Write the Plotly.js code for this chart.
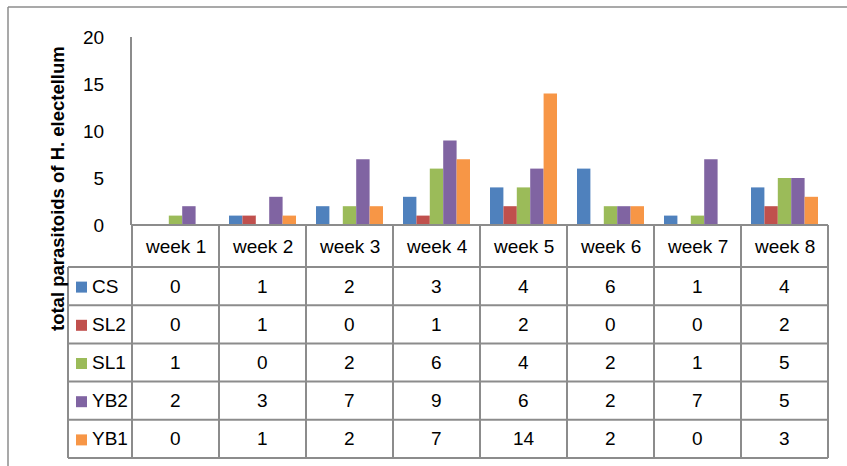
<!DOCTYPE html>
<html>
<head>
<meta charset="utf-8">
<script src="https://cdn.plot.ly/plotly-3.0.1.min.js"></script>
<style>html,body{margin:0;padding:0;background:#fff;}#chart{width:847px;height:466px;}</style>
</head>
<body>
<div id="chart"></div>
<script>
const weeks = ['week 1','week 2','week 3','week 4','week 5','week 6','week 7','week 8'];
const seriesNames = ['CS','SL2','SL1','YB2','YB1'];
const CS  = [0,1,2,3,4,6,1,4];
const SL2 = [0,1,0,1,2,0,0,2];
const SL1 = [1,0,2,6,4,2,1,5];
const YB2 = [2,3,7,9,6,2,7,5];
const YB1 = [0,1,2,7,14,2,0,3];
const seriesValues = [CS, SL2, SL1, YB2, YB1];
const colors = ['#4F81BD','#C0504D','#9BBB59','#8064A2','#F79646'];
const yTitle = 'total parasitoids of H. electellum';

// geometry (pixels)
const W = 847, H = 466;
const mL = 132, mR = 19, mT = 37, mB = 241;
const plotW = W - mL - mR, plotH = H - mT - mB;
const axisY = H - mB;             // pixel y of value 0
const headerH = 42, rowH = 38.2;
const legendLeft = 68;
const gridColor = '#8c8c8c';
const font = 'Liberation Sans, Arial, sans-serif';

const px2x = p => (p - mL) / plotW;
const py2y = p => (axisY - p) / plotH;

const traces = seriesNames.map((n, k) => ({
  type: 'bar', name: n, x: weeks.map((w, i) => i), y: seriesValues[k],
  marker: {color: colors[k]}, hoverinfo: 'x+y+name'
}));

const shapes = [];
const annotations = [];
const line = (x0, y0, x1, y1, c, w) => shapes.push({type:'line', xref:'paper', yref:'paper',
  x0: px2x(x0), y0: py2y(y0), x1: px2x(x1), y1: py2y(y1), line:{color:c||gridColor, width:w||2}});

const nRows = seriesNames.length;
const headTop = axisY, bodyTop = axisY + headerH;
const tableBottom = bodyTop + nRows * rowH;
const colW = plotW / weeks.length;
const plotRight = mL + plotW;

// outer chart border (top & left)
line(8, 7, W, 7, '#8c8c8c', 1.5);
line(8, 7, 8, H, '#8c8c8c', 1.5);

// horizontal lines
line(mL, headTop, plotRight, headTop);
for (let r = 0; r <= nRows; r++) {
  const y = bodyTop + r * rowH;
  line(legendLeft, y, plotRight, y);
}
// vertical lines
line(legendLeft, bodyTop, legendLeft, tableBottom);
for (let i = 0; i <= weeks.length; i++) {
  line(mL + i * colW, headTop, mL + i * colW, tableBottom);
}

const txtFont = {family: font, size: 19, color: '#000'};
// header
weeks.forEach((w, i) => annotations.push({xref:'x', yref:'paper', x: i, y: py2y(headTop + headerH/2),
  text: w, showarrow:false, font: txtFont, xanchor:'center', yanchor:'middle'}));
// body
seriesNames.forEach((n, k) => {
  const cy = bodyTop + k * rowH + rowH/2;
  // legend key
  shapes.push({type:'rect', xref:'paper', yref:'paper', x0: px2x(76), x1: px2x(87),
    y0: py2y(cy - 4.5), y1: py2y(cy + 6.5), fillcolor: colors[k], line:{width:0}});
  annotations.push({xref:'paper', yref:'paper', x: px2x(90), y: py2y(cy), text: n, showarrow:false,
    font: txtFont, xanchor:'left', yanchor:'middle'});
  seriesValues[k].forEach((v, i) => annotations.push({xref:'x', yref:'paper', x: i, y: py2y(cy),
    text: String(v), showarrow:false, font: txtFont, xanchor:'center', yanchor:'middle'}));
});

// y axis title
annotations.push({xref:'paper', yref:'paper', x: px2x(57), y: py2y(189), text: '<b>' + yTitle + '</b>',
  textangle: -90, showarrow:false, font:{family: font, size: 18.5, color:'#000'}, xanchor:'center', yanchor:'middle'});

const layout = {
  width: W, height: H,
  margin: {l: mL, r: mR, t: mT, b: mB, pad: 0},
  paper_bgcolor: '#fff', plot_bgcolor: '#fff',
  barmode: 'group', bargap: 0.23, bargroupgap: 0,
  showlegend: false,
  xaxis: {type:'linear', range: [-0.5, weeks.length - 0.5], showticklabels: false, showgrid: false,
    zeroline: false, showline: false, ticks: '', fixedrange: true},
  yaxis: {range: [0, 20], dtick: 5, tick0: 0, showgrid: false, zeroline: false, showline: true,
    linecolor: gridColor, linewidth: 2, ticks: '', ticklabelstandoff: 22,
    tickfont: {family: font, size: 19, color: '#000'}, title: {text: ''}, fixedrange: true},
  shapes: shapes,
  annotations: annotations
};

Plotly.newPlot('chart', traces, layout, {displayModeBar: false, staticPlot: true});
</script>
</body>
</html>
